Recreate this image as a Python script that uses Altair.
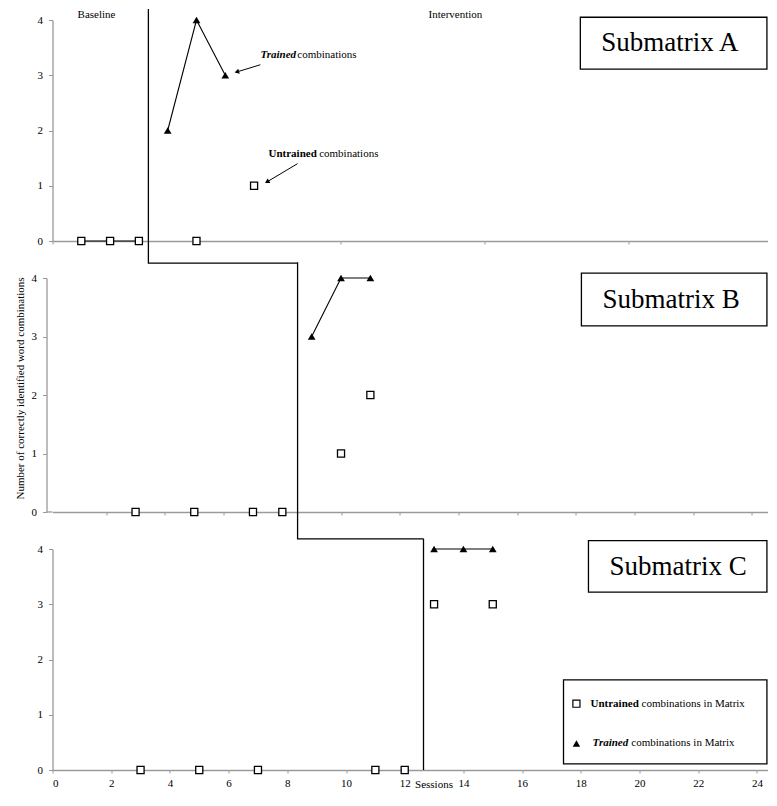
import altair as alt
import pandas as pd

FONT = "Liberation Serif"
GRAY = "#9a9a9a"

# ---------------- data ----------------
# Submatrix A
a_untrained_x = [1, 2, 3, 5, 7]
a_untrained_y = [0, 0, 0, 0, 1]
a_untrained_seg = [1, 1, 1, 2, 3]
a_trained_x = [4, 5, 6]
a_trained_y = [2, 4, 3]

# Submatrix B
b_untrained_x = [3, 5, 7, 8, 10, 11]
b_untrained_y = [0, 0, 0, 0, 1, 2]
b_untrained_seg = [1, 2, 3, 4, 5, 6]
b_trained_x = [9, 10, 11]
b_trained_y = [3, 4, 4]

# Submatrix C
c_untrained_x = [3, 5, 7, 11, 12, 13, 15]
c_untrained_y = [0, 0, 0, 0, 0, 3, 3]
c_untrained_seg = [1, 2, 3, 4, 5, 6, 7]
c_trained_x = [13, 14, 15]
c_trained_y = [4, 4, 4]

y_ticks = [0, 1, 2, 3, 4]
a_x_ticks = [0, 5, 10, 15, 20]
bc_x_ticks = [0, 2, 4, 6, 8, 10, 12, 14, 16, 18, 20, 22, 24]

# phase-change (baseline -> intervention) line, per panel
a_phase_x = [3.33, 3.33, 8.5]
a_phase_y = [4.2, -0.4, -0.4]
b_phase_x = [8.52, 8.52, 12.82]
b_phase_y = [4.27, -0.46, -0.46]
c_phase_x = [12.64, 12.64]
c_phase_y = [4.18, 0.0]

panel_titles = ["Submatrix A", "Submatrix B", "Submatrix C"]
y_title = "Number of correctly identified word combinations"
x_title = "Sessions"

W = 715
A_MAX, B_MIN, B_MAX, C_MAX = 24.83, 0.17, 24.53, 24.36


def xenc(dom, ticks, labels, title=None, **kw):
    ax = dict(values=ticks, labels=labels, tickSize=3, labelPadding=4, format="d")
    ax["title"] = title
    ax.update(kw)
    return alt.X("x:Q", scale=alt.Scale(domain=dom, nice=False, zero=False), axis=alt.Axis(**ax))


def yenc(**kw):
    ax = dict(values=y_ticks, tickSize=4, labelPadding=6, title=None, format="d")
    ax.update(kw)
    return alt.Y("y:Q", scale=alt.Scale(domain=[0, 4], nice=False, zero=False), axis=alt.Axis(**ax))


def line(df, X, Y, detail=None, width=1.1):
    enc = dict(x=X, y=Y, order="o:Q")
    if detail:
        enc["detail"] = detail
    return alt.Chart(df).mark_line(color="black", strokeWidth=width, clip=False).encode(**enc)


def txt(x, y, t, size=11, weight="normal", style="normal", align="left"):
    df = pd.DataFrame({"x": x, "y": y, "t": t})
    return alt.Chart(df).mark_text(font=FONT, fontSize=size, fontWeight=weight, fontStyle=style,
                                   align=align, baseline="middle", color="black", clip=False).encode(
        x="x:Q", y="y:Q", text="t:N")


def box(x, x2, y, y2):
    df = pd.DataFrame({"x": x, "x2": x2, "y": y, "y2": y2})
    return alt.Chart(df).mark_rect(fill="white", stroke="black", strokeWidth=1.3, clip=False).encode(
        x="x:Q", x2="x2:Q", y="y:Q", y2="y2:Q")


def arrows(x, y, x2, y2, ang):
    df = pd.DataFrame({"x": x, "y": y, "x2": x2, "y2": y2, "ang": ang})
    r = alt.Chart(df).mark_rule(color="black", strokeWidth=1, clip=False).encode(
        x="x:Q", y="y:Q", x2="x2:Q", y2="y2:Q")
    h = alt.Chart(df).mark_point(shape="triangle-up", filled=True, color="black", size=28,
                                 opacity=1, clip=False).encode(
        x="x2:Q", y="y2:Q", angle=alt.Angle("ang:Q", scale=None))
    return r + h


def data_layers(X, Y, ux, uy, useg, tx, ty, px, py):
    udf = pd.DataFrame({"x": ux, "y": uy, "seg": useg, "o": list(range(len(ux)))})
    tdf = pd.DataFrame({"x": tx, "y": ty, "o": list(range(len(tx)))})
    pdf = pd.DataFrame({"x": px, "y": py, "o": list(range(len(px)))})
    phase = line(pdf, X, Y, width=1.3)
    uline = line(udf, X, Y, detail="seg:N")
    tline = line(tdf, X, Y)
    upts = alt.Chart(udf).mark_point(shape="square", filled=True, fill="white", stroke="black",
                                     strokeWidth=1.3, size=50, opacity=1, clip=False).encode(x=X, y=Y)
    tpts = alt.Chart(tdf).mark_point(shape="triangle-up", filled=True, color="black", size=60,
                                     opacity=1, clip=False).encode(x=X, y=Y)
    return [phase, uline, tline, upts, tpts]


# ---------------- panel A ----------------
XA = xenc([0, A_MAX], a_x_ticks, False)
YA = yenc()
A = alt.layer(
    *data_layers(XA, YA, a_untrained_x, a_untrained_y, a_untrained_seg, a_trained_x, a_trained_y,
                 a_phase_x, a_phase_y),
    txt([0.87, 13.06], [4.09, 4.09], ["Baseline", "Intervention"]),
    txt([7.22], [3.37], ["Trained"], weight="bold", style="italic"),
    txt([8.5], [3.37], ["combinations"]),
    txt([7.5], [1.58], ["Untrained"], weight="bold"),
    txt([9.26], [1.58], ["combinations"]),
    arrows([7.22, 8.51], [3.19, 1.40], [6.4, 7.45], [3.06, 1.07], [254, 239]),
    box([18.33], [A_MAX - 0.02], [4.05], [3.11]),
    txt([19.06], [3.58], [panel_titles[0]], size=27),
).properties(width=W, height=221)

# ---------------- panel B ----------------
XB = xenc([B_MIN, B_MAX], bc_x_ticks, False)
YB = yenc(offset=6, title=y_title, titleX=-26, titleY=110, titleAngle=270,
          titleAlign="center", titleBaseline="middle")
B = alt.layer(
    *data_layers(XB, YB, b_untrained_x, b_untrained_y, b_untrained_seg, b_trained_x, b_trained_y,
                 b_phase_x, b_phase_y),
    alt.Chart(pd.DataFrame({"x": [0]})).mark_rule(color=GRAY, strokeWidth=1.3).encode(
        x=alt.value(-6), x2=alt.value(0), y=alt.value(234)),
    box([18.19], [B_MAX - 0.02], [4.085], [3.18]),
    txt([18.91], [3.62], [panel_titles[1]], size=27),
).properties(width=W, height=234)

# ---------------- panel C ----------------
XC = xenc([0, C_MAX], bc_x_ticks, True, title=x_title, titleX=381, titleY=14,
          titleAlign="center", titleBaseline="middle")
YC = yenc()
C = alt.layer(
    *data_layers(XC, YC, c_untrained_x, c_untrained_y, c_untrained_seg, c_trained_x, c_trained_y,
                 c_phase_x, c_phase_y),
    box([18.26], [C_MAX - 0.02], [4.15], [3.22]),
    txt([18.98], [3.67], [panel_titles[2]], size=27),
    box([17.41], [C_MAX - 0.02], [1.63], [0.11]),
    alt.Chart(pd.DataFrame({"x": [17.85], "y": [1.20]})).mark_point(
        shape="square", filled=True, fill="white", stroke="black", strokeWidth=1.2, size=50,
        opacity=1).encode(x="x:Q", y="y:Q"),
    alt.Chart(pd.DataFrame({"x": [17.85], "y": [0.48]})).mark_point(
        shape="triangle-up", filled=True, color="black", size=55, opacity=1).encode(x="x:Q", y="y:Q"),
    txt([18.33], [1.20], ["Untrained"], weight="bold"),
    txt([20.07], [1.20], ["combinations in Matrix"]),
    txt([18.4], [0.48], ["Trained"], weight="bold", style="italic"),
    txt([19.72], [0.48], ["combinations in Matrix"]),
).properties(width=W, height=221)

chart = alt.vconcat(A, B, C, spacing=37, bounds="flush").properties(
    padding={"left": 5.5, "top": -2, "right": 0, "bottom": 0}
).configure_view(stroke=None).configure_axis(
    domainColor=GRAY, domainWidth=1.3, tickColor=GRAY, tickWidth=1, grid=False,
    labelFont=FONT, labelFontSize=11, labelColor="black",
    titleFont=FONT, titleFontSize=11, titleFontWeight="normal", titleColor="black"
)

chart.save("out.html", embed_options={"renderer": "svg", "actions": False})
